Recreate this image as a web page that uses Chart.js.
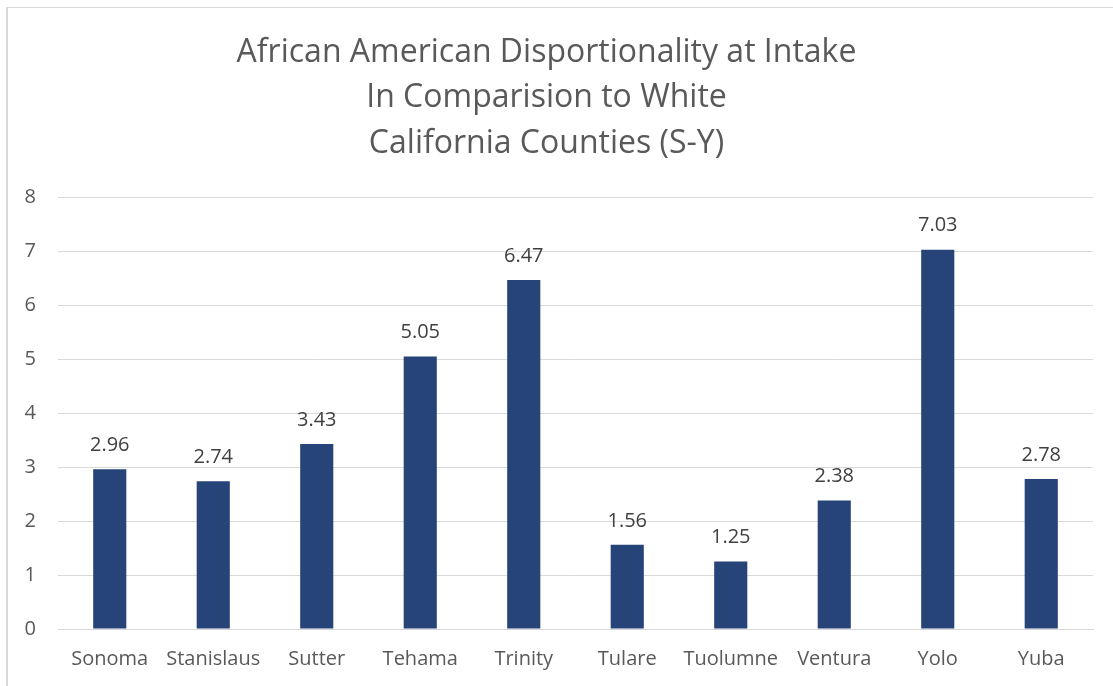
<!DOCTYPE html>
<html>
<head>
<meta charset="utf-8">
<script src="https://cdn.jsdelivr.net/npm/chart.js@4.4.1/dist/chart.umd.min.js"></script>
<style>
  html, body { margin: 0; padding: 0; background: #ffffff; }
  #wrap { position: relative; width: 1113px; height: 686px; overflow: hidden; }
  #frame { position: absolute; left: 6px; top: 7px; right: -10px; bottom: -10px;
           border-left: 2px solid #d9d9d9; border-top: 1px solid #d9d9d9; }
  canvas { position: absolute; left: 0; top: 0; }
</style>
</head>
<body>
<div id="wrap">
  <div id="frame"></div>
  <canvas id="chart" width="1113" height="686"></canvas>
</div>
<script>
const counties = ["Sonoma", "Stanislaus", "Sutter", "Tehama", "Trinity", "Tulare", "Tuolumne", "Ventura", "Yolo", "Yuba"];
const ratios = [2.96, 2.74, 3.43, 5.05, 6.47, 1.56, 1.25, 2.38, 7.03, 2.78];
const titleLines = ["African American Disportionality at Intake", "In Comparision to White", "California Counties (S-Y)"];

const FONT = "'Open Sans', 'Liberation Sans', sans-serif";

// Value labels written above each bar
const barValueLabels = {
  id: "barValueLabels",
  afterDatasetsDraw(chart) {
    const ctx = chart.ctx;
    const meta = chart.getDatasetMeta(0);
    const data = chart.data.datasets[0].data;
    ctx.save();
    ctx.font = "20px " + FONT;
    ctx.fillStyle = "#404040";
    ctx.textAlign = "center";
    ctx.textBaseline = "middle";
    meta.data.forEach((bar, i) => {
      ctx.fillText(data[i].toFixed(2), bar.x, bar.y - 24);
    });
    ctx.restore();
  }
};

new Chart(document.getElementById("chart"), {
  type: "bar",
  data: {
    labels: counties,
    datasets: [{
      data: ratios,
      backgroundColor: "#264478",
      borderWidth: 0,
      barPercentage: 0.32,
      categoryPercentage: 1.0
    }]
  },
  options: {
    responsive: false,
    animation: false,
    layout: { padding: { left: 0, right: 20, top: 30, bottom: 0 } },
    plugins: {
      legend: { display: false },
      tooltip: { enabled: false },
      title: {
        display: true,
        text: titleLines,
        color: "#595959",
        font: { family: FONT, size: 32, weight: "normal", lineHeight: 1.42 },
        padding: { top: 0, bottom: 31 }
      }
    },
    scales: {
      x: {
        grid: { display: false, drawTicks: false },
        border: { display: true, color: "#d9d9d9", width: 1 },
        ticks: { color: "#595959", font: { family: FONT, size: 20 }, padding: 18, maxRotation: 0, autoSkip: false },
        afterFit(scale) { scale.height = 57; }
      },
      y: {
        min: 0,
        max: 8,
        grid: { color: "#d9d9d9", lineWidth: 1, drawTicks: false },
        border: { display: false },
        ticks: { stepSize: 1, color: "#595959", font: { family: FONT, size: 20 }, padding: 22 },
        afterFit(scale) { scale.width = 58; }
      }
    }
  },
  plugins: [barValueLabels]
});
</script>
</body>
</html>
